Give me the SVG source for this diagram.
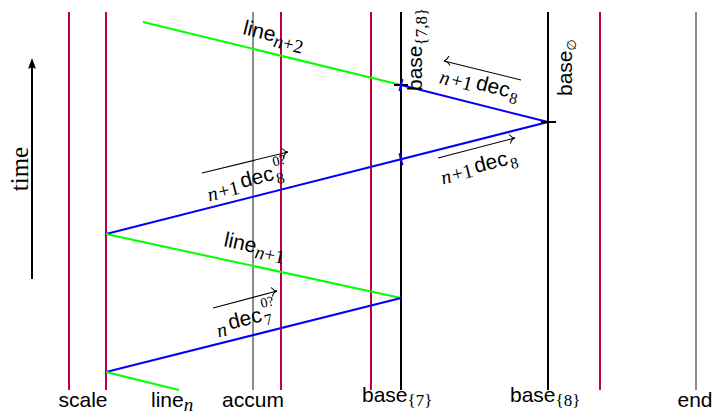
<svg xmlns="http://www.w3.org/2000/svg" width="713" height="418" viewBox="0 0 713 418">
<style>
.v{stroke-width:2;fill:none}
.pur{stroke:#bf0040}
.gry{stroke:#8c8c8c}
.blk{stroke:#000}
.grn{stroke:#00ff00;stroke-width:2;fill:none}
.blu{stroke:#0000ff;stroke-width:2;fill:none}
.arr{stroke:#000;stroke-width:1.1;fill:none}
.sf{font-family:"Liberation Sans",Arial,sans-serif;font-size:21px;fill:#000}
.rm{font-family:"Liberation Serif","Times New Roman",serif;fill:#000}
.it{font-style:italic}
</style>
<rect width="713" height="418" fill="#fff"/>
<g id="lanes">
<g id="scale-a"><line class="v pur" x1="69" y1="12" x2="69" y2="390"/></g>
<g id="scale-b"><line class="v pur" x1="106" y1="12" x2="106" y2="390"/></g>
<g id="accum"><line class="v gry" x1="253" y1="12" x2="253" y2="390"/></g>
<g id="accum-b"><line class="v pur" x1="281" y1="12" x2="281" y2="390"/></g>
<g id="pre-base7"><line class="v pur" x1="371" y1="12" x2="371" y2="390"/></g>
<g id="base7"><line class="v blk" x1="401" y1="12" x2="401" y2="390"/></g>
<g id="base8"><line class="v blk" x1="548" y1="12" x2="548" y2="390"/></g>
<g id="post-base8"><line class="v pur" x1="600" y1="12" x2="600" y2="390"/></g>
<g id="end"><line class="v gry" x1="696" y1="12" x2="696" y2="390"/></g>
</g>
<g id="connectors">
<line class="grn" x1="143" y1="22" x2="401" y2="85"/>
<line class="blu" x1="401" y1="85" x2="548" y2="122"/>
<line class="blu" x1="548" y1="122" x2="106" y2="234"/>
<line class="grn" x1="106" y1="234" x2="401" y2="298"/>
<line class="blu" x1="401" y1="298" x2="106" y2="372"/>
<line class="grn" x1="106" y1="372" x2="179" y2="390"/>
<line class="blk" stroke-width="2" x1="394" y1="85" x2="408" y2="85"/>
<line class="blk" stroke-width="2" x1="541" y1="122" x2="556" y2="122"/>
<line class="blu" x1="402.5" y1="79" x2="399.5" y2="91"/>
<line class="blu" x1="399.5" y1="153.2" x2="402.5" y2="165.2"/>
<line class="arr" x1="202" y1="173" x2="288" y2="152"/>
<path class="arr" d="M282,148.5 Q285,152 288,152 Q284,153.5 283.5,157.5"/>
<line class="arr" x1="213" y1="308" x2="277" y2="291"/>
<path class="arr" d="M271,287.5 Q274,291 277,291 Q273,292.5 272.5,296.5"/>
<line class="arr" x1="521" y1="80" x2="444" y2="61"/>
<path class="arr" d="M449,56 Q447,60 444,61 Q448,61.5 450,65.5"/>
<line class="arr" x1="438" y1="158" x2="515" y2="138"/>
<path class="arr" d="M509,134.5 Q512,138 515,138 Q511,139.5 510.5,143.5"/>
<line stroke="#000" stroke-width="2" x1="32" y1="279" x2="32" y2="66"/>
<path d="M32,58 L36,69 Q32,66 28,69 Z" fill="#000"/>
</g>
<g id="labels">
<text class="sf" transform="translate(242,34) rotate(13.7)">line<tspan class="rm it" font-size="19" dy="5">n</tspan><tspan class="rm" font-size="19">+2</tspan></text>
<text class="sf" transform="translate(223,246) rotate(12.2)">line<tspan class="rm it" font-size="19" dy="5">n</tspan><tspan class="rm" font-size="19">+1</tspan></text>
<g transform="translate(242,188) rotate(-14.2)">
<text class="rm it" font-size="20" x="-35" y="5">n</text><text class="rm" font-size="20" x="-24" y="5">+1</text>
<text class="sf" font-size="22" x="0" y="0">dec</text>
<text class="rm" font-size="16" x="35.5" y="5">8</text><text class="rm" font-size="14" x="36" y="-13">0?</text>
</g>
<g transform="translate(230,329.5) rotate(-14.1)">
<text class="rm it" font-size="20" x="-13" y="5">n</text>
<text class="sf" font-size="22" x="0" y="0">dec</text>
<text class="rm" font-size="16" x="35.5" y="5">7</text><text class="rm" font-size="14" x="36" y="-13">0?</text>
</g>
<g transform="translate(475,89) rotate(14.1)">
<text class="rm it" font-size="20" x="-37" y="3">n</text><text class="rm" font-size="20" x="-25" y="3">+1</text>
<text class="sf" font-size="22" x="0" y="0">dec</text>
<text class="rm" font-size="16" x="35.5" y="5">8</text>
</g>
<g transform="translate(476,173) rotate(-14.2)">
<text class="rm it" font-size="20" x="-35" y="3">n</text><text class="rm" font-size="20" x="-24" y="3">+1</text>
<text class="sf" font-size="22" x="0" y="0">dec</text>
<text class="rm" font-size="16" x="35.5" y="5">8</text>
</g>
<text class="sf" transform="translate(422,91) rotate(-90)">base<tspan class="rm" font-size="17" dy="5">{7,8}</tspan></text>
<text class="sf" transform="translate(572,96) rotate(-90)">base<tspan font-family="DejaVu Sans" font-size="13" dy="4">∅</tspan></text>
<text class="rm" font-size="25" text-anchor="middle" transform="translate(28,169) rotate(-90)">time</text>
<text class="sf" x="83" y="407" text-anchor="middle">scale</text>
<text class="sf" x="151" y="407">line<tspan class="rm it" font-size="19" dy="4">n</tspan></text>
<text class="sf" x="253" y="407" text-anchor="middle">accum</text>
<text class="sf" x="362" y="402">base<tspan class="rm" font-size="17" dy="4">{7}</tspan></text>
<text class="sf" x="510" y="402">base<tspan class="rm" font-size="17" dy="4">{8}</tspan></text>
<text class="sf" x="695" y="407" text-anchor="middle">end</text>
</g>
</svg>
